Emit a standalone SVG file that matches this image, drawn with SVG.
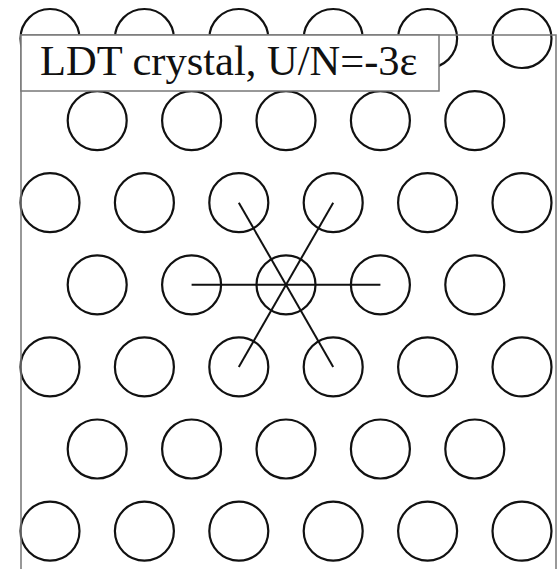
<svg xmlns="http://www.w3.org/2000/svg" width="558" height="569" viewBox="0 0 558 569">
  <style>
    .site { fill: none; stroke: #111; stroke-width: 2.2; }
    .bond { stroke: #111; stroke-width: 2; }
    .frame { fill: none; stroke: #777; stroke-width: 1.5; }
    .label-box { fill: #fff; stroke: #777; stroke-width: 1.5; }
    .label { font-family: "Liberation Serif", "Times New Roman", serif; font-size: 42.5px; fill: #111; }
  </style>
  <rect width="558" height="569" fill="#fff"/>

  <!-- lattice sites: triangular lattice, a = 94.4, row pitch = 82.1 -->
  <g id="sites">
    <g id="row0">
      <circle class="site" cx="50" cy="38.5" r="29.5"/>
      <circle class="site" cx="144.4" cy="38.5" r="29.5"/>
      <circle class="site" cx="238.8" cy="38.5" r="29.5"/>
      <circle class="site" cx="333.2" cy="38.5" r="29.5"/>
      <circle class="site" cx="427.6" cy="38.5" r="29.5"/>
      <circle class="site" cx="522" cy="38.5" r="29.5"/>
    </g>
    <g id="row1">
      <circle class="site" cx="97.2" cy="120.6" r="29.5"/>
      <circle class="site" cx="191.6" cy="120.6" r="29.5"/>
      <circle class="site" cx="286" cy="120.6" r="29.5"/>
      <circle class="site" cx="380.4" cy="120.6" r="29.5"/>
      <circle class="site" cx="474.8" cy="120.6" r="29.5"/>
    </g>
    <g id="row2">
      <circle class="site" cx="50" cy="202.7" r="29.5"/>
      <circle class="site" cx="144.4" cy="202.7" r="29.5"/>
      <circle class="site" cx="238.8" cy="202.7" r="29.5"/>
      <circle class="site" cx="333.2" cy="202.7" r="29.5"/>
      <circle class="site" cx="427.6" cy="202.7" r="29.5"/>
      <circle class="site" cx="522" cy="202.7" r="29.5"/>
    </g>
    <g id="row3">
      <circle class="site" cx="97.2" cy="284.8" r="29.5"/>
      <circle class="site" cx="191.6" cy="284.8" r="29.5"/>
      <circle id="center-site" class="site" cx="286" cy="284.8" r="29.5"/>
      <circle class="site" cx="380.4" cy="284.8" r="29.5"/>
      <circle class="site" cx="474.8" cy="284.8" r="29.5"/>
    </g>
    <g id="row4">
      <circle class="site" cx="50" cy="366.9" r="29.5"/>
      <circle class="site" cx="144.4" cy="366.9" r="29.5"/>
      <circle class="site" cx="238.8" cy="366.9" r="29.5"/>
      <circle class="site" cx="333.2" cy="366.9" r="29.5"/>
      <circle class="site" cx="427.6" cy="366.9" r="29.5"/>
      <circle class="site" cx="522" cy="366.9" r="29.5"/>
    </g>
    <g id="row5">
      <circle class="site" cx="97.2" cy="449" r="29.5"/>
      <circle class="site" cx="191.6" cy="449" r="29.5"/>
      <circle class="site" cx="286" cy="449" r="29.5"/>
      <circle class="site" cx="380.4" cy="449" r="29.5"/>
      <circle class="site" cx="474.8" cy="449" r="29.5"/>
    </g>
    <g id="row6">
      <circle class="site" cx="50" cy="531.1" r="29.5"/>
      <circle class="site" cx="144.4" cy="531.1" r="29.5"/>
      <circle class="site" cx="238.8" cy="531.1" r="29.5"/>
      <circle class="site" cx="333.2" cy="531.1" r="29.5"/>
      <circle class="site" cx="427.6" cy="531.1" r="29.5"/>
      <circle class="site" cx="522" cy="531.1" r="29.5"/>
    </g>
  </g>

  <!-- bonds from the central site to its six nearest neighbours -->
  <g id="bonds">
    <line class="bond" x1="191.6" y1="284.8" x2="380.4" y2="284.8"/>
    <line class="bond" x1="238.8" y1="202.7" x2="333.2" y2="366.9"/>
    <line class="bond" x1="333.2" y1="202.7" x2="238.8" y2="366.9"/>
  </g>

  <!-- plot frame -->
  <rect class="frame" x="21" y="35" width="535" height="545"/>

  <!-- title box -->
  <g id="title">
    <rect class="label-box" x="21" y="35" width="418" height="56"/>
    <text class="label" x="40" y="75">LDT crystal, U/N=-3ε</text>
  </g>
</svg>
